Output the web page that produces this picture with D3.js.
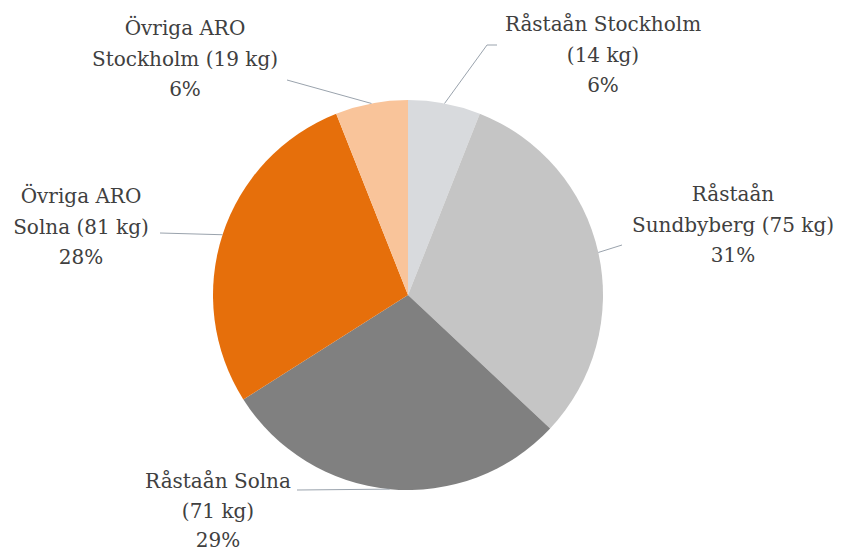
<!DOCTYPE html>
<html>
<head>
<meta charset="utf-8">
<script src="https://cdn.jsdelivr.net/npm/d3@7"></script>
<style>
  html, body { margin: 0; padding: 0; background: #ffffff; }
  svg { display: block; }
  text { font-family: "DejaVu Serif", "Liberation Serif", serif; fill: #404040; }
</style>
</head>
<body>
<svg id="chart" width="841" height="553"></svg>
<script>
// Plast i dagvatten per delområde
const names = ["Råstaån Stockholm", "Råstaån Sundbyberg", "Råstaån Solna", "Övriga ARO Solna", "Övriga ARO Stockholm"];
const kilograms = [14, 75, 71, 81, 19];
const percents = [6, 31, 29, 28, 6];
const labelLines = [
  ["Råstaån Stockholm", "(14 kg)", "6%"],
  ["Råstaån", "Sundbyberg (75 kg)", "31%"],
  ["Råstaån Solna", "(71 kg)", "29%"],
  ["Övriga ARO", "Solna (81 kg)", "28%"],
  ["Övriga ARO", "Stockholm (19 kg)", "6%"]
];
const colors = ["#d8dadd", "#c5c5c5", "#808080", "#e66f0b", "#f9c49a"];

const svg = d3.select("#chart");
const cx = 408, cy = 295, r = 195;

const pie = d3.pie().sort(null).value(d => d.pct);
const arc = d3.arc().innerRadius(0).outerRadius(r);
const data = names.map((n, i) => ({ name: n, kg: kilograms[i], pct: percents[i], lines: labelLines[i], color: colors[i] }));
const arcs = pie(data);

const g = svg.append("g").attr("transform", `translate(${cx},${cy})`);
g.selectAll("path.slice")
  .data(arcs)
  .join("path")
  .attr("class", "slice")
  .attr("d", arc)
  .attr("fill", d => d.data.color);

// label placement: centre x, first baseline, line spacing, leader end point
const labelPos = [
  { x: 603, y: 31, gap: 30.5, lead: [[497, 45], [487, 45]] },
  { x: 733, y: 201, gap: 30.5, lead: [[622, 245]] },
  { x: 218, y: 488, gap: 29.5, lead: [[297, 490]] },
  { x: 81, y: 203, gap: 30.5, lead: [[160, 233]] },
  { x: 185, y: 35, gap: 30.5, lead: [[287, 80]] }
];

arcs.forEach((a, i) => {
  const mid = (a.startAngle + a.endAngle) / 2;
  const edge = [cx + r * Math.sin(mid), cy - r * Math.cos(mid)];
  const pts = [edge].concat(labelPos[i].lead.slice().reverse());
  svg.append("path")
    .attr("d", d3.line()(pts))
    .attr("fill", "none")
    .attr("stroke", "#9aa3ad")
    .attr("stroke-width", 1);

  const t = svg.append("text")
    .attr("text-anchor", "middle")
    .attr("font-size", 20);
  a.data.lines.forEach((ln, k) => {
    t.append("tspan")
      .attr("x", labelPos[i].x)
      .attr("y", labelPos[i].y + k * labelPos[i].gap)
      .text(ln);
  });
});
</script>
</body>
</html>
